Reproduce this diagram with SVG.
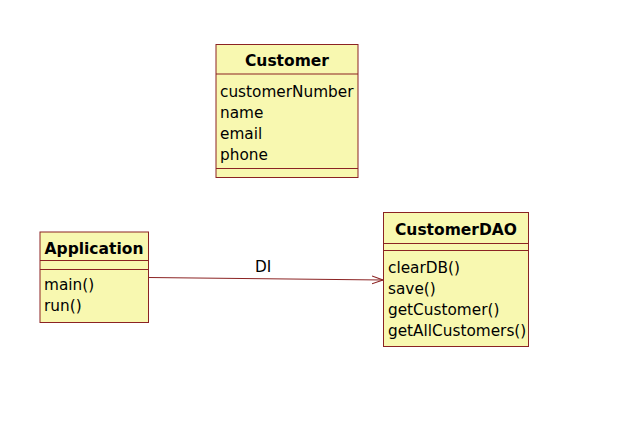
<svg xmlns="http://www.w3.org/2000/svg" width="630" height="432" viewBox="0 0 630 432">
<style>
.box{fill:#f8f8b0;stroke:#8b2323;stroke-width:1}
.sep{stroke:#8b2323;stroke-width:1}
.t{font-family:"DejaVu Sans",Verdana,sans-serif;font-size:15.3px;fill:#000}
.h{font-family:"DejaVu Sans",Verdana,sans-serif;font-size:15.5px;font-weight:bold;fill:#000;text-anchor:middle}
.edge{stroke:#8b2323;stroke-width:1;fill:none}
</style>
<defs>
<marker id="open" viewBox="0 0 12 10" refX="11" refY="5" markerWidth="12" markerHeight="10" markerUnits="userSpaceOnUse" orient="auto">
<path d="M0,1 L11,5 L0,9" fill="none" stroke="#8b2323" stroke-width="1"/>
</marker>
</defs>
<rect width="630" height="432" fill="#fff"/>
<g id="connectors">
<line class="edge" x1="148.5" y1="277.5" x2="383" y2="280" marker-end="url(#open)"/>
<text class="t" x="255" y="272">DI</text>
</g>
<g id="Customer">
<rect class="box" x="216" y="44.5" width="142" height="133"/>
<line class="sep" x1="216" y1="74" x2="358" y2="74"/>
<line class="sep" x1="216" y1="168.5" x2="358" y2="168.5"/>
<text class="h" x="287" y="66">Customer</text>
<text class="t" x="220" y="97">customerNumber</text>
<text class="t" x="220" y="118">name</text>
<text class="t" x="220" y="139">email</text>
<text class="t" x="220" y="160">phone</text>
</g>
<g id="Application">
<rect class="box" x="40" y="232" width="108.5" height="90.5"/>
<line class="sep" x1="40" y1="260.5" x2="148.5" y2="260.5"/>
<line class="sep" x1="40" y1="269.5" x2="148.5" y2="269.5"/>
<text class="h" x="94" y="254">Application</text>
<text class="t" x="44" y="290">main()</text>
<text class="t" x="44" y="311">run()</text>
</g>
<g id="CustomerDAO">
<rect class="box" x="383.5" y="212.5" width="145" height="134"/>
<line class="sep" x1="383.5" y1="243.5" x2="528.5" y2="243.5"/>
<line class="sep" x1="383.5" y1="250.5" x2="528.5" y2="250.5"/>
<text class="h" x="456" y="235">CustomerDAO</text>
<text class="t" x="388" y="273">clearDB()</text>
<text class="t" x="388" y="294">save()</text>
<text class="t" x="388" y="315">getCustomer()</text>
<text class="t" x="388" y="336">getAllCustomers()</text>
</g>
</svg>
